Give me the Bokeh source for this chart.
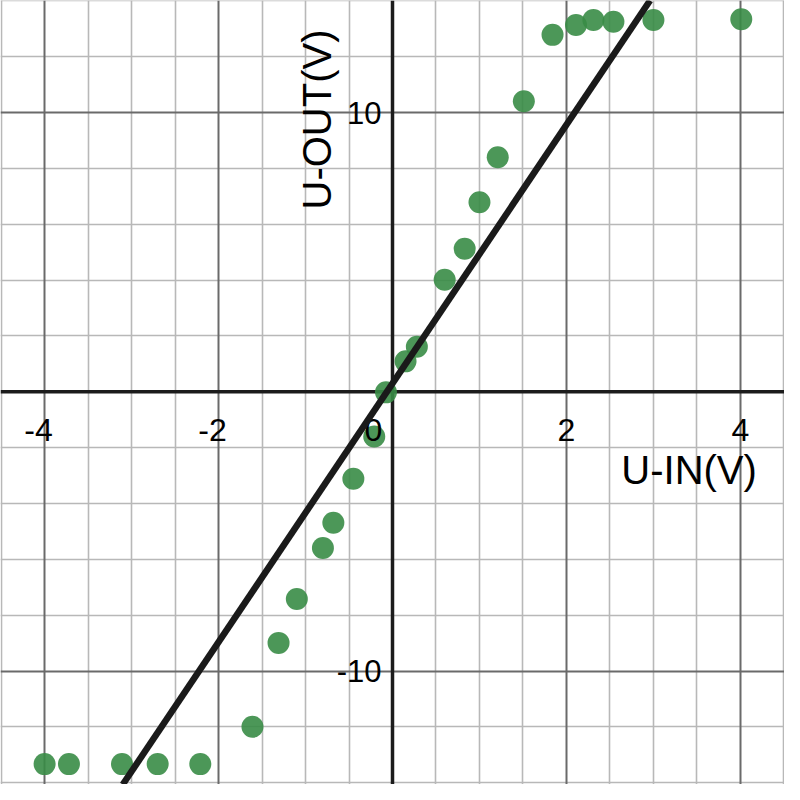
import numpy as np
from bokeh.plotting import figure
from bokeh.models import Range1d, Grid, FixedTicker, Span, Slope, ColumnDataSource
from bokeh.core.properties import value
from bokeh.embed import file_html
from bokeh.resources import INLINE

# ---- data ----
u_in = [-4.0, -3.72, -3.11, -2.70, -2.21, -1.61, -1.31, -1.10, -0.80, -0.68,
        -0.45, -0.21, -0.075, 0.15, 0.28, 0.60, 0.83, 1.00, 1.21, 1.51,
        1.84, 2.11, 2.31, 2.54, 3.00, 4.01]
u_out = [-13.33, -13.33, -13.33, -13.33, -13.33, -11.99, -8.99, -7.42, -5.59, -4.69,
         -3.11, -1.60, -0.02, 1.09, 1.61, 4.01, 5.12, 6.79, 8.40, 10.40,
         12.78, 13.13, 13.31, 13.25, 13.31, 13.34]
fit_slope = 4.63
fit_intercept = 0.30

x_tick_values = [-4, -2, 0, 2, 4]
x_tick_labels = ["-4", "-2", "0", "2", "4"]
y_tick_values = [-10, 10]
y_tick_labels = ["-10", "10"]
x_label = "U-IN(V)"
y_label = "U-OUT(V)"

FONT = value("Liberation Sans")

p = figure(width=784, height=784, output_backend="svg", toolbar_location=None,
           x_range=Range1d(-4.507, 4.507), y_range=Range1d(-14.06, 14.01),
           x_axis_location=None, y_axis_location=None, min_border=0)
p.outline_line_color = None
p.background_fill_color = "white"
p.xgrid.visible = False
p.ygrid.visible = False

# grids
minor_x = [t for t in np.arange(-4.5, 4.51, 0.5) if abs(t % 2) > 1e-9]
major_x = [-4, -2, 2, 4]
minor_y = [t for t in np.arange(-14, 14.01, 2) if abs(t % 10) > 1e-9]
major_y = [-10, 10]

p.add_layout(Grid(dimension=0, ticker=FixedTicker(ticks=minor_x),
                  grid_line_color="#b8b8b8", grid_line_width=1.6))
p.add_layout(Grid(dimension=1, ticker=FixedTicker(ticks=minor_y),
                  grid_line_color="#b8b8b8", grid_line_width=1.6))
p.add_layout(Grid(dimension=0, ticker=FixedTicker(ticks=major_x),
                  grid_line_color="#6a6a6a", grid_line_width=2))
p.add_layout(Grid(dimension=1, ticker=FixedTicker(ticks=major_y),
                  grid_line_color="#6a6a6a", grid_line_width=2))

# axes lines
p.add_layout(Span(location=0, dimension="width", line_color="#1c1c1c",
                  line_width=3.5, level="underlay"))
p.add_layout(Span(location=0, dimension="height", line_color="#1c1c1c",
                  line_width=3.5, level="underlay"))

# data points
p.scatter(u_in, u_out, size=22, fill_color="#388c46", fill_alpha=0.9, line_color=None)

# fit line
p.add_layout(Slope(gradient=fit_slope, y_intercept=fit_intercept,
                   line_color="#1a1a1a", line_width=6.5))

# tick labels
x_offs = [-19 if v == 0 else (-6 if v < 0 else 0) for v in x_tick_values]
xsrc = ColumnDataSource(dict(x=x_tick_values, y=[0] * len(x_tick_values),
                             t=x_tick_labels, xo=x_offs))
p.text(x="x", y="y", text="t", source=xsrc, x_offset="xo", y_offset=38,
       text_align="center", text_baseline="alphabetic", text_font=FONT,
       text_font_size="32px", text_color="black")
ysrc = ColumnDataSource(dict(x=[0] * len(y_tick_values), y=y_tick_values, t=y_tick_labels))
p.text(x="x", y="y", text="t", source=ysrc, x_offset=-11, y_offset=0,
       text_align="right", text_baseline="middle", text_font=FONT,
       text_font_size="31px", text_color="black")

# axis titles
p.text(x=[3.41], y=[-2.80], text=[x_label], text_align="center",
       text_baseline="alphabetic", text_font=FONT, text_font_size="40px",
       text_color="black")
p.text(x=[-0.87], y=[9.75], text=[y_label], angle=np.pi / 2, text_align="center",
       text_baseline="alphabetic", text_font=FONT, text_font_size="40px",
       text_color="black")

open("out.html", "w").write(file_html(p, INLINE))
